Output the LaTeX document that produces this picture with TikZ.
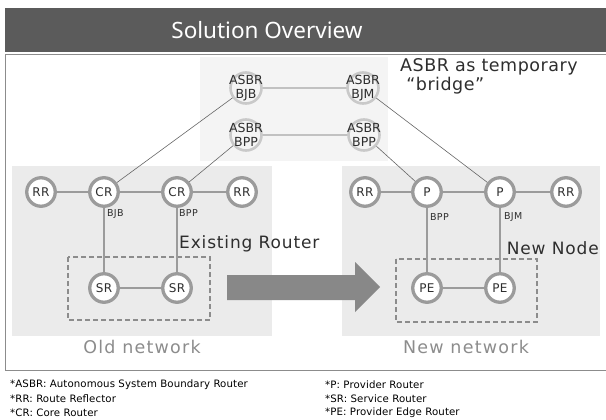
\documentclass[tikz,border=0pt]{standalone}
\usepackage{fontspec}
\setmainfont[LetterSpace=3]{DejaVu Sans}
\newfontfamily\titlefont{Noto Sans}
\usepackage{tikz}
\usetikzlibrary{positioning}
\definecolor{barGray}{HTML}{5B5B5B}
\definecolor{frameGray}{HTML}{8C8C8C}
\definecolor{boxGray}{HTML}{EBEBEB}
\definecolor{bridgeGray}{HTML}{F4F4F4}
\definecolor{ringGray}{HTML}{9B9B9B}
\definecolor{asbrRing}{HTML}{C9C9C9}
\definecolor{textGray}{HTML}{2E2E2E}
\definecolor{netGray}{HTML}{8C8C8C}
\definecolor{arrowGray}{HTML}{888888}
\tikzset{
  router/.style={circle,draw=ringGray,line width=3.3pt,fill=white,
    minimum size=28.5pt,inner sep=0pt,text=textGray,
    font=\fontsize{12}{12}\selectfont},
  asbr/.style={circle,draw=asbrRing,line width=2.6pt,fill=bridgeGray,
    minimum size=31pt,inner sep=0pt},
  asbrtext/.style={align=center,inner sep=0pt,text=textGray,
    font=\fontsize{12.5}{13.5}\selectfont\addfontfeature{LetterSpace=0}},
  idlabel/.style={anchor=west,inner sep=0pt,text=textGray,
    font=\fontsize{9.5}{10}\selectfont},
  link/.style={draw=ringGray,line width=1.1pt},
  bridgelink/.style={draw=black!60,line width=0.6pt},
  groupbox/.style={draw=netGray,line width=1.4pt,dash pattern=on 5pt off 3pt},
  bigtext/.style={inner sep=0pt,text=textGray,
    font=\fontsize{17}{20}\selectfont\addfontfeature{LetterSpace=5}},
  netname/.style={inner sep=0pt,text=netGray,
    font=\fontsize{17.5}{20}\selectfont\addfontfeature{LetterSpace=7}},
  legend/.style={anchor=west,inner sep=0pt,text=black,
    font=\fontsize{10.2}{12}\selectfont\addfontfeature{LetterSpace=1}}
}

\begin{document}
\begin{tikzpicture}[x=1pt,y=-1pt]
\useasboundingbox (0,0) rectangle (606,420);
% title bar and frame
\fill[barGray] (5,8) rectangle (606,52);
\node at (267,30) [text=white,font=\titlefont\fontsize{22.5}{26}\selectfont] (title) {Solution Overview};
\draw[frameGray,line width=1pt] (5,54.5) rectangle (608,370);
\fill[bridgeGray] (200,57) rectangle (388,161);
\fill[boxGray] (12,166) rectangle (272,336);
\fill[boxGray] (342,166) rectangle (600,336);
\draw[groupbox] (68,257) rectangle (210,320);
\draw[groupbox] (396,259) rectangle (537,322);
% migration arrow
\fill[arrowGray] (227,275)--(355,275)--(355,262)--(380,287)--(355,312)--(355,300)--(227,300)--cycle;

% bridge routers
\node at (246,88) [asbr,label={[asbrtext]center:ASBR\\BJB}] (asbrBJB) {};
\node at (363,88) [asbr,label={[asbrtext]center:ASBR\\BJM}] (asbrBJM) {};
\node at (246,135) [asbr,label={[asbrtext]center:ASBR\\BPP}] (asbrBPPa) {};
\node at (364,135) [asbr,label={[asbrtext]center:ASBR\\BPP}] (asbrBPPb) {};
\node at (400,76) [bigtext,align=left,anchor=west,font=\fontsize{17.5}{19}\selectfont] (bridgeNote) {ASBR as temporary\\\ “bridge”};

% old network
\node at (41,192) [router] (rrA) {RR};
\node at (104,192) [router] (crBJB) {CR};
\node at (177,192) [router] (crBPP) {CR};
\node at (242,192) [router] (rrB) {RR};
\node at (104,288) [router] (srA) {SR};
\node at (177,288) [router] (srB) {SR};
\node at (107,214) [idlabel] (lblBJB) {BJB};
\node at (179,213) [idlabel] (lblBPPa) {BPP};
\node at (179,244) [bigtext,anchor=west] (existing) {Existing Router};
\node at (142,347) [netname] (oldName) {Old network};

% new network
\node at (365,192) [router] (rrC) {RR};
\node at (427,192) [router] (pBPP) {P};
\node at (500,192) [router] (pBJM) {P};
\node at (566,192) [router] (rrD) {RR};
\node at (427,288) [router] (peA) {PE};
\node at (500,288) [router] (peB) {PE};
\node at (430,217) [idlabel] (lblBPPb) {BPP};
\node at (504,217) [idlabel] (lblBJM) {BJM};
\node at (599,248) [bigtext,anchor=east] (newNode) {New Node};
\node at (466,347) [netname] (newName) {New network};

% links
\draw[link] (rrA)--(crBJB)--(crBPP)--(rrB);
\draw[link] (crBJB)--(srA) (crBPP)--(srB) (srA)--(srB);
\draw[link] (rrC)--(pBPP)--(pBJM)--(rrD);
\draw[link] (pBPP)--(peA) (pBJM)--(peB) (peA)--(peB);
\draw[bridgelink] (crBJB)--(asbrBJB)--(asbrBJM)--(pBJM);
\draw[bridgelink] (crBPP)--(asbrBPPa)--(asbrBPPb)--(pBPP);

% legend
\node at (10,385) [legend] (keyASBR) {*ASBR: Autonomous System Boundary Router};
\node at (10,399) [legend] (keyRR) {*RR: Route Reflector};
\node at (10,413) [legend] (keyCR) {*CR: Core Router};
\node at (325,385) [legend] (keyP) {*P: Provider Router};
\node at (325,399) [legend] (keySR) {*SR: Service Router};
\node at (325,413) [legend] (keyPE) {*PE: Provider Edge Router};
\end{tikzpicture}
\end{document}
